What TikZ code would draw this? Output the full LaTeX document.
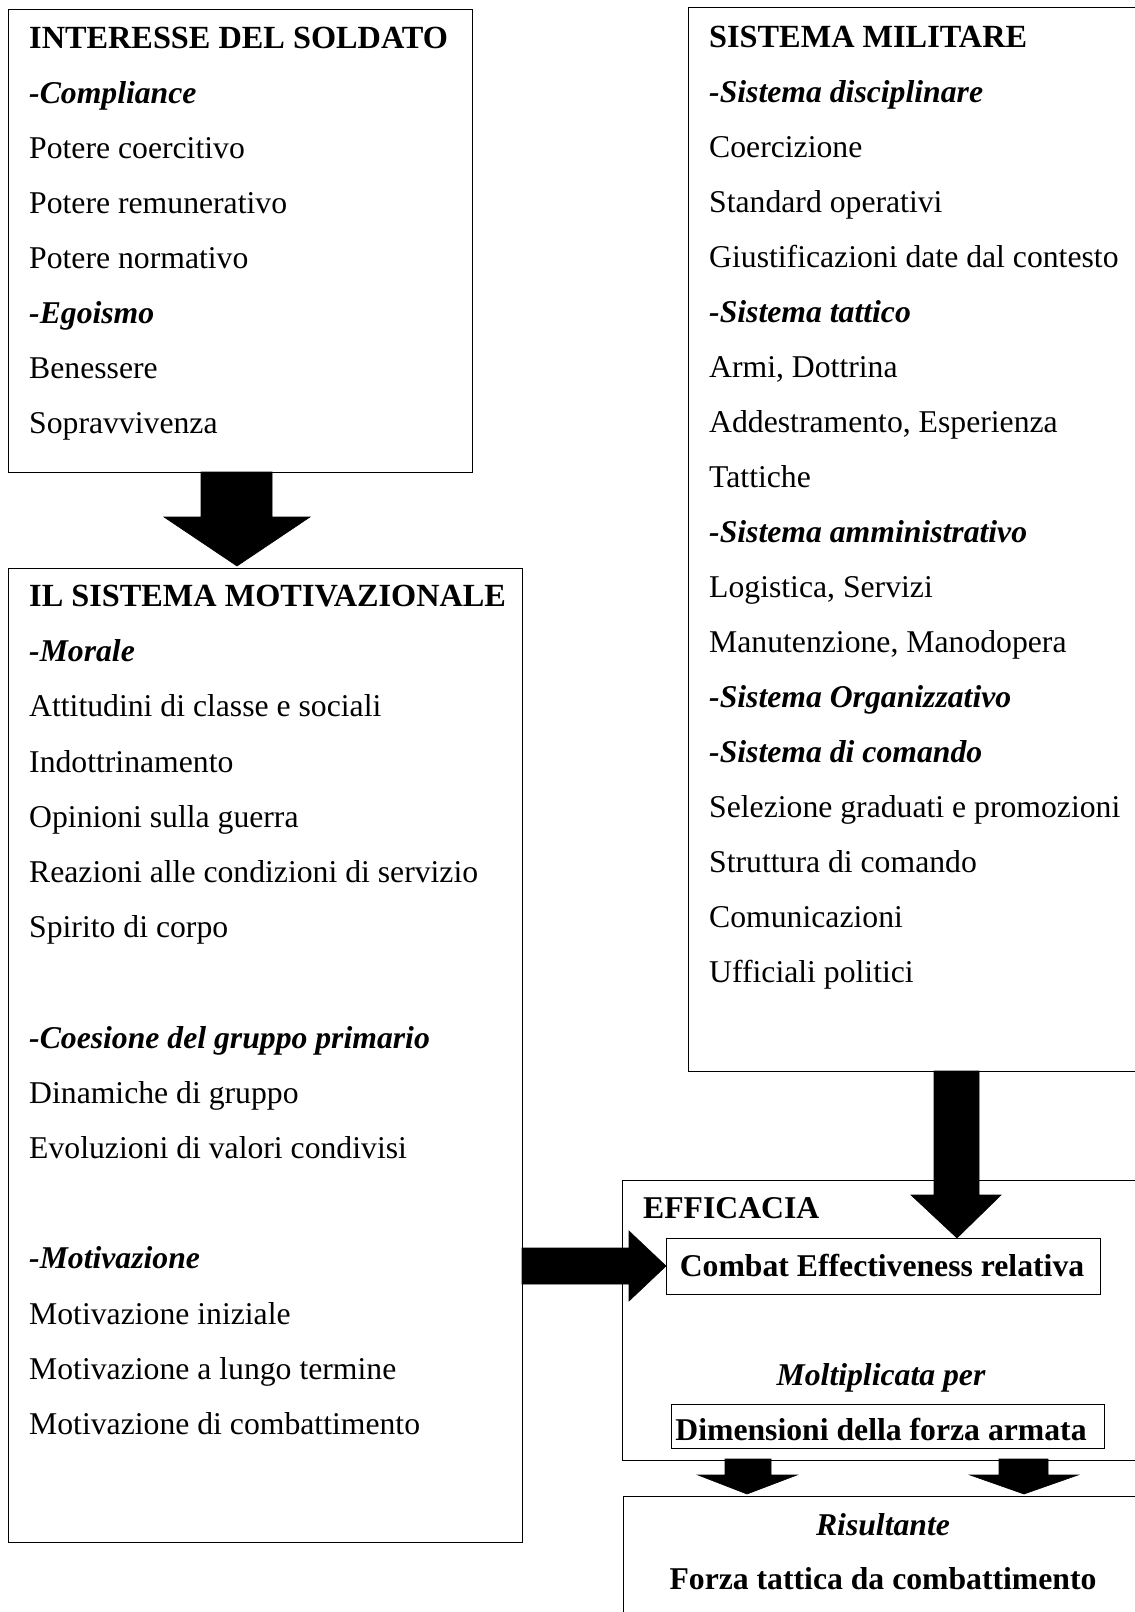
\documentclass[tikz,border=0pt]{standalone}
\usepackage{fontspec}
\setmainfont{Liberation Serif}
\begin{document}
\begin{tikzpicture}[x=1pt,y=-1pt,
  box/.style={draw,line width=1.4pt,inner sep=0pt,anchor=north west},
  txt/.style={anchor=base west,inner sep=0pt,font=\fontsize{31.7}{40}\selectfont},
  ctxt/.style={anchor=base,inner sep=0pt,font=\fontsize{31.7}{40}\selectfont},
  hd/.style={font=\fontsize{31.7}{40}\selectfont\bfseries},
  title/.style={font=\fontsize{32.3}{40}\selectfont\bfseries},
  sub/.style={font=\fontsize{31.7}{40}\selectfont\bfseries\itshape},
  blockarrow/.style={fill=black,draw=black,line width=0.6pt}]
\useasboundingbox (0,0) rectangle (1135,1612);
\clip (0,0) rectangle (1135,1612);
\fill[white] (0,0) rectangle (1135,1612);

% boxes
\node[box,minimum width=464pt,minimum height=463pt] (b1) at (8,9) {};
\node[box,minimum width=514pt,minimum height=974pt] (b2) at (8,568) {};
\node[box,minimum width=470pt,minimum height=1064pt] (b3) at (688,7) {};
\node[box,minimum width=530pt,minimum height=280pt] (eff) at (622,1180) {};
\node[box,minimum width=434pt,minimum height=56pt] (cer) at (666,1238) {};
\node[box,minimum width=433pt,minimum height=44pt] (dim) at (671,1404) {};
\node[box,minimum width=530pt,minimum height=140pt] (res) at (623,1496) {};

% box 1 text
\node[txt,title] (t101) at (29,48)  {INTERESSE DEL SOLDATO};
\node[txt,sub] (t102) at (29,103) {-Compliance};
\node[txt]     (t103) at (29,158) {Potere coercitivo};
\node[txt]     (t104) at (29,213) {Potere remunerativo};
\node[txt]     (t105) at (29,268) {Potere normativo};
\node[txt,sub] (t106) at (29,323) {-Egoismo};
\node[txt]     (t107) at (29,378) {Benessere};
\node[txt]     (t108) at (29,433) {Sopravvivenza};

% box 2 text
\node[txt,title] (t201) at (29,606)  {IL SISTEMA MOTIVAZIONALE};
\node[txt,sub] (t202) at (29,661)  {-Morale};
\node[txt]     (t203) at (29,716)  {Attitudini di classe e sociali};
\node[txt]     (t204) at (29,772)  {Indottrinamento};
\node[txt]     (t205) at (29,827)  {Opinioni sulla guerra};
\node[txt]     (t206) at (29,882)  {Reazioni alle condizioni di servizio};
\node[txt]     (t207) at (29,937)  {Spirito di corpo};
\node[txt,sub] (t208) at (29,1048) {-Coesione del gruppo primario};
\node[txt]     (t209) at (29,1103) {Dinamiche di gruppo};
\node[txt]     (t210) at (29,1158) {Evoluzioni di valori condivisi};
\node[txt,sub] (t211) at (29,1268) {-Motivazione};
\node[txt]     (t212) at (29,1324) {Motivazione iniziale};
\node[txt]     (t213) at (29,1379) {Motivazione a lungo termine};
\node[txt]     (t214) at (29,1434) {Motivazione di combattimento};

% box 3 text
\node[txt,title] (t301) at (709,47)  {SISTEMA MILITARE};
\node[txt,sub] (t302) at (709,102) {-Sistema disciplinare};
\node[txt]     (t303) at (709,157) {Coercizione};
\node[txt]     (t304) at (709,212) {Standard operativi};
\node[txt]     (t305) at (709,267) {Giustificazioni date dal contesto};
\node[txt,sub] (t306) at (709,322) {-Sistema tattico};
\node[txt]     (t307) at (709,377) {Armi, Dottrina};
\node[txt]     (t308) at (709,432) {Addestramento, Esperienza};
\node[txt]     (t309) at (709,487) {Tattiche};
\node[txt,sub] (t310) at (709,542) {-Sistema amministrativo};
\node[txt]     (t311) at (709,597) {Logistica, Servizi};
\node[txt]     (t312) at (709,652) {Manutenzione, Manodopera};
\node[txt,sub] (t313) at (709,707) {-Sistema Organizzativo};
\node[txt,sub] (t314) at (709,762) {-Sistema di comando};
\node[txt]     (t315) at (709,817) {Selezione graduati e promozioni};
\node[txt]     (t316) at (709,872) {Struttura di comando};
\node[txt]     (t317) at (709,927) {Comunicazioni};
\node[txt]     (t318) at (709,982) {Ufficiali politici};

% efficacia text
\node[txt,hd]   (t401) at (643,1218) {EFFICACIA};
\node[ctxt,hd]  (t402) at (882,1276) {Combat Effectiveness relativa};
\node[ctxt,sub] (t403) at (881,1385) {Moltiplicata per};
\node[ctxt,hd]  (t404) at (881,1440) {Dimensioni della forza armata};
\node[ctxt,sub] (t405) at (883,1535) {Risultante};
\node[ctxt,hd]  (t406) at (883,1589) {Forza tattica da combattimento};

% block arrows
\filldraw[blockarrow] (201,472) -- (272,472) -- (272,517) -- (310,517) -- (237,566)
  -- (164,517) -- (201,517) -- cycle;
\filldraw[blockarrow] (934,1071) -- (979,1071) -- (979,1195) -- (1001,1195) -- (957,1238)
  -- (911,1195) -- (934,1195) -- cycle;
\filldraw[blockarrow] (522,1248) -- (629,1248) -- (629,1231) -- (666,1266) -- (629,1301)
  -- (629,1284) -- (522,1284) -- cycle;
\filldraw[blockarrow] (725,1459) -- (771,1459) -- (771,1475) -- (797,1475) -- (747,1494)
  -- (698,1475) -- (725,1475) -- cycle;
\filldraw[blockarrow] (999,1459) -- (1048,1459) -- (1048,1475) -- (1078,1475) -- (1024,1494)
  -- (970,1475) -- (999,1475) -- cycle;
\end{tikzpicture}
\end{document}
